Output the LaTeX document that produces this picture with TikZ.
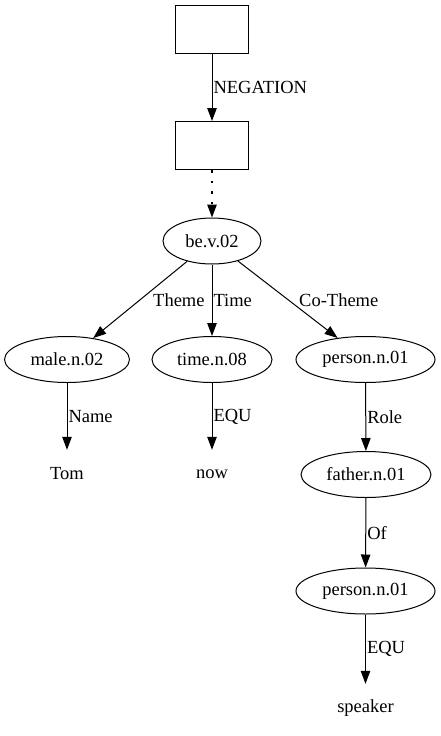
\documentclass[tikz,border=0pt]{standalone}
\usepackage{fontspec}
\setmainfont{Liberation Serif}
\usetikzlibrary{shapes.geometric,arrows.meta}
\tikzset{
  synset/.style={ellipse,draw,line width=1pt,inner sep=2pt,minimum height=46pt},
  emptybox/.style={rectangle,draw,line width=1pt,minimum width=73pt,minimum height=48pt},
  word/.style={inner sep=0pt,minimum height=48pt},
  rel/.style={-{Triangle[length=13pt,width=9.5pt]},line width=1pt},
  rellabel/.style={anchor=west,inner sep=1pt},
}
\begin{document}
\begin{tikzpicture}[x=1pt,y=-1pt,font=\fontsize{18.5}{22}\selectfont]
            \useasboundingbox (0,0) rectangle (440,736);
            % boxes and synsets
            \node[emptybox] (top) at (212,29) {};
            \node[emptybox] (neg) at (212,145.5) {};
            \node[synset,minimum width=98pt] (be) at (212,241) {be.v.02};
            \node[synset,minimum width=125pt] (male) at (67,359.5) {male.n.02};
            \node[synset,minimum width=120pt] (time) at (212,359.5) {time.n.08};
            \node[synset,minimum width=139pt] (person) at (365.5,359.5) {person.n.01};
            \node[word] (tom) at (67,474) {Tom};
            \node[word] (now) at (212,474) {now};
            \node[synset,minimum width=130pt] (father) at (366,474.5) {father.n.01};
            \node[synset,minimum width=139pt] (persontwo) at (365.5,591) {person.n.01};
            \node[word] (speaker) at (365.5,708) {speaker};

            \draw[rel] (top) -- (neg) node[rellabel,midway] {NEGATION};
            \draw[rel,line width=1.2pt,dash pattern=on 2.5pt off 8pt] (neg) -- (be);

            \draw[rel] (be) -- (male);
            \node[rellabel] (theme) at (152,300) {Theme};
            \draw[rel] (be) -- (time) node[rellabel,midway] {Time};
            \draw[rel] (be) -- (person);
            \node[rellabel] (cotheme) at (298,300) {Co-Theme};

            \draw[rel] (male) -- (tom) node[rellabel,midway] {Name};
            \draw[rel] (time) -- (now) node[rellabel,midway] {EQU};
            \draw[rel] (person) -- (father) node[rellabel,midway] {Role};
            \draw[rel] (father) -- (persontwo) node[rellabel,midway] {Of};
            \draw[rel] (persontwo) -- (speaker) node[rellabel,midway] {EQU};
\end{tikzpicture}
\end{document}
